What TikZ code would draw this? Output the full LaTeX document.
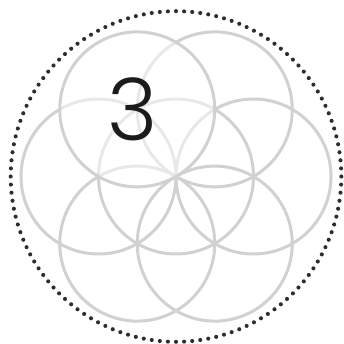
\documentclass[tikz,border=0pt]{standalone}
\usepackage{fontspec}
\newfontfamily\numfont{Poppins Light}
\usepackage{tikz}
\definecolor{ring}{RGB}{208,209,211}
\definecolor{ink}{RGB}{28,26,28}
\definecolor{dots}{RGB}{45,45,48}

\begin{document}
\begin{tikzpicture}[x=1pt,y=1pt,
 petal/.style={draw=ring,line width=3pt},
 toppetal/.style={draw=ring,line width=3pt,fill=white,fill opacity=0.52}]
 \useasboundingbox (-176,-167.5) rectangle (168,176.5);
 % dotted frame
 \foreach \i in {1,...,128}{
   \fill[dots] ({\i*2.8125}:165.3) circle (2.05);
 }
 % seed of life
 \draw[petal] (0,0) circle (77.5);
 \foreach \a in {0,60,180,240,300}{
   \draw[petal] (\a:77.5) circle (77.5);
 }
 \draw[toppetal] (120:77.5) circle (77.5);
 \node[font=\numfont\fontsize{86}{86}\selectfont,text=ink,inner sep=0pt] (num) at (-43.5,67.5) {3};
\end{tikzpicture}
\end{document}
